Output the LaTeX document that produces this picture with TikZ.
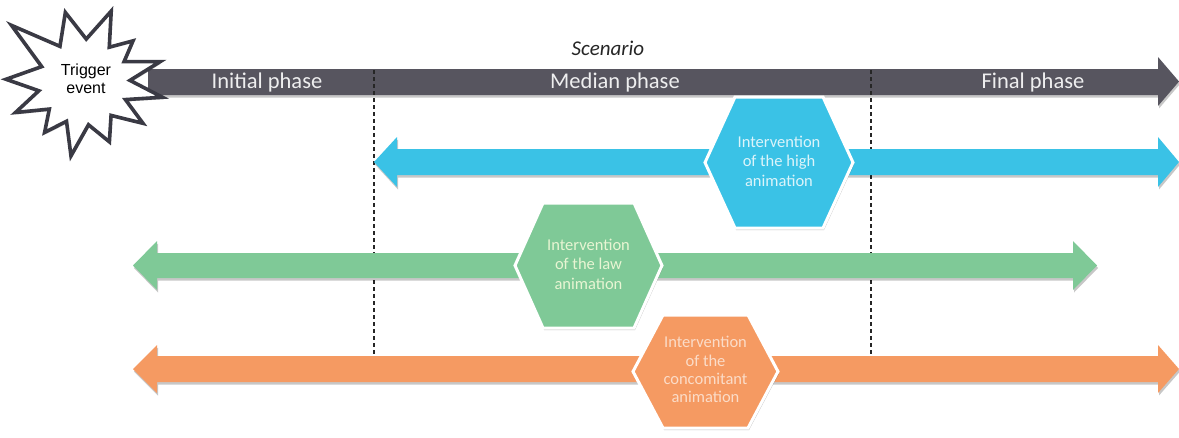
\documentclass[tikz,border=0pt]{standalone}
\usepackage{fontspec}
\setmainfont{Carlito}
\newfontfamily\arialf{Liberation Sans}
\usetikzlibrary{shadows,calc}
\definecolor{phasegray}{HTML}{57555F}
\definecolor{hiblue}{HTML}{3AC2E6}
\definecolor{lawgreen}{HTML}{7FC997}
\definecolor{conorange}{HTML}{F59A62}
\definecolor{starline}{HTML}{3A3A44}
\begin{document}
\begin{tikzpicture}[x=1pt,y=-1pt,
  arrowshadow/.style={drop shadow={shadow xshift=1pt,shadow yshift=-2.5pt,opacity=0.22,fill=black}},
  phasetext/.style={text=white!90!phasegray,font=\fontsize{22.5}{26}\selectfont,inner sep=0pt},
  hexbox/.style={draw=white,line width=3pt,line join=miter,drop shadow={shadow xshift=1pt,shadow yshift=-2pt,opacity=0.25,fill=black}},
  hextext/.style={align=center,font=\fontsize{16.5}{19.5}\selectfont,inner sep=0pt},
  phasesep/.style={draw=black!85,line width=1.4pt,dash pattern=on 4pt off 3pt},
  startext/.style={align=center,font=\arialf\fontsize{16}{18}\selectfont,inner sep=0pt}
]
\useasboundingbox (0,0) rectangle (1179,437);

% scenario arrow
\fill[phasegray,arrowshadow] (148,69) -- (1158,69) -- (1158,57) -- (1179,81.5) -- (1158,106) -- (1158,95) -- (148,95) -- cycle;

% phase separators
\coordinate (s1a) at (374,70);
\coordinate (s1b) at (374,356);
\coordinate (s2a) at (871,70);
\coordinate (s2b) at (871,356);
\draw[phasesep] (s1a) -- (s1b);
\draw[phasesep] (s2a) -- (s2b);

% colored arrows
\fill[hiblue,arrowshadow] (374,162) -- (397,137) -- (397,149) -- (1158,149) -- (1158,137) -- (1179,162) -- (1158,187) -- (1158,175) -- (397,175) -- (397,187) -- cycle;
\fill[lawgreen,arrowshadow] (133,265.5) -- (157,241) -- (157,253) -- (1073,253) -- (1073,241) -- (1097,265.5) -- (1073,290) -- (1073,278) -- (157,278) -- (157,290) -- cycle;
\fill[conorange,arrowshadow] (133,369) -- (157,345) -- (157,356) -- (1158,356) -- (1158,345) -- (1179,369) -- (1158,393) -- (1158,382) -- (157,382) -- (157,393) -- cycle;

% labels on scenario arrow
\node[font=\itshape\fontsize{21}{24}\selectfont,text=black!85,inner sep=0pt] (scen) at (608,48) {Scenario};
\node[phasetext] (ini) at (267,82) {Initial phase};
\node[phasetext] (med) at (615,82) {Median phase};
\node[phasetext] (fin) at (1033,82) {Final phase};

% hexagons
\fill[hiblue,hexbox] (705,162.5) -- (735,97) -- (823,97) -- (853,162.5) -- (823,228) -- (735,228) -- cycle;
\node[hextext,text=white!82!hiblue] (hb) at (779,161) {Intervention\\of the high\\animation};

\fill[lawgreen,hexbox] (515,265.5) -- (543,203) -- (634,203) -- (662,265.5) -- (634,328) -- (543,328) -- cycle;
\node[hextext,text=white!80!lawgreen!90!yellow] (hg) at (588.5,264) {Intervention\\of the law\\animation};

\fill[conorange,hexbox] (633,371.5) -- (663,315) -- (748,315) -- (778,371.5) -- (748,428) -- (663,428) -- cycle;
\node[hextext,text=white!65!conorange,font=\fontsize{16.5}{18.3}\selectfont] (ho) at (705.5,369.5) {Intervention\\of the\\concomitant\\animation};

% trigger star
\begin{scope}[shift={(84,82)},yscale=-1]
\filldraw[fill=white,draw=starline,line width=3.6pt,line join=miter,miter limit=10,
  drop shadow={shadow xshift=1pt,shadow yshift=-2pt,opacity=0.2,fill=black}]
 (142:92) -- (124:43) -- (105:72) -- (87:43) -- (69:76) -- (54:43) -- (40:64) -- (27:45) -- (15:79) -- (2:46) -- (-11:80) -- (-23:45) -- (-35:72) -- (-51:43) -- (-67:65) -- (-84:43) -- (-100:75) -- (-114:43) -- (-128:64) -- (-142:44) -- (-156:75) -- (-169:46) -- (178:78) -- (160:45) -- cycle;
\end{scope}
\node[startext] (trig) at (86,79) {Trigger\\event};
\end{tikzpicture}
\end{document}
